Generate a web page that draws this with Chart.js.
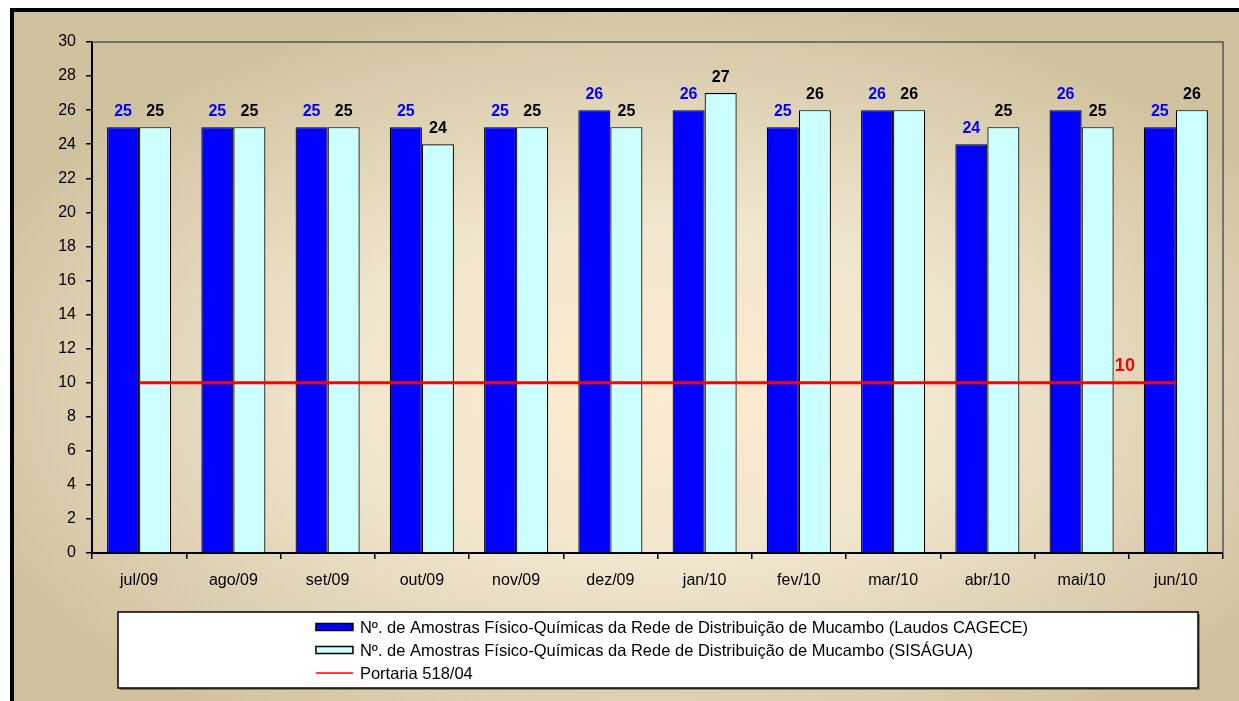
<!DOCTYPE html>
<html>
<head>
<meta charset="utf-8">
<script src="https://cdn.jsdelivr.net/npm/chart.js@4.4.1/dist/chart.umd.min.js"></script>
<style>
    body { margin: 0; background: #fff; overflow: hidden; }
    canvas { display: block; }
</style>
</head>
<body>
<canvas id="amostrasChart" width="1239" height="701"></canvas>
<script>
const meses = ["jul/09", "ago/09", "set/09", "out/09", "nov/09", "dez/09", "jan/10", "fev/10", "mar/10", "abr/10", "mai/10", "jun/10"];
const laudosCagece = [25, 25, 25, 25, 25, 26, 26, 25, 26, 24, 26, 25];
const sisagua = [25, 25, 25, 24, 25, 25, 27, 26, 26, 25, 25, 26];
const portaria = [10, 10, 10, 10, 10, 10, 10, 10, 10, 10, 10, 10];
const yMin = 0, yMax = 30, yStep = 2;

const FONT = "'Liberation Sans', Arial, sans-serif";

// Beige background with a black frame on the top/left edge
const backgroundPlugin = {
    id: "background",
    beforeDraw(chart) {
        const ctx = chart.ctx;
        const w = chart.width, h = chart.height;
        ctx.save();
        ctx.fillStyle = "#fff";
        ctx.fillRect(0, 0, w, h);
        ctx.fillStyle = "#000";
        ctx.fillRect(10, 8, w, h);

        const cx = 650, cy = 390, rx = 720, ry = 400;
        ctx.beginPath();
        ctx.rect(14, 12, w, h);
        ctx.clip();
        ctx.translate(cx, cy);
        ctx.scale(1, ry / rx);
        const grad = ctx.createRadialGradient(0, 0, 0, 0, 0, rx);
        grad.addColorStop(0, "#fdebd0");
        grad.addColorStop(0.45, "#efe5cd");
        grad.addColorStop(1, "#d1c29f");
        ctx.fillStyle = grad;
        ctx.fillRect(-cx, -cy * rx / ry, w * 2, h * 2 * rx / ry);
        ctx.restore();
    },
    afterDraw(chart) {
        // grey frame on top and right of the plot area
        const { ctx, chartArea } = chart;
        ctx.save();
        ctx.strokeStyle = "#555";
        ctx.lineWidth = 1.5;
        ctx.beginPath();
        ctx.moveTo(chartArea.left, chartArea.top);
        ctx.lineTo(chartArea.right, chartArea.top);
        ctx.lineTo(chartArea.right, chartArea.bottom);
        ctx.stroke();
        ctx.restore();
    }
};

// Value labels above bars and on the last point of the line
const valueLabels = {
    id: "valueLabels",
    afterDatasetsDraw(chart) {
        const ctx = chart.ctx;
        ctx.save();
        ctx.textAlign = "center";
        ctx.textBaseline = "middle";
        chart.data.datasets.forEach((ds, i) => {
            const meta = chart.getDatasetMeta(i);
            if (ds.type === "line") {
                const last = meta.data[meta.data.length - 1];
                ctx.font = "bold 18px " + FONT;
                ctx.fillStyle = "#ff0000";
                ctx.fillText(ds.data[ds.data.length - 1], last.x - 51, last.y - 17);
                return;
            }
            ctx.font = "bold 16px " + FONT;
            ctx.fillStyle = ds.labelColor;
            meta.data.forEach((bar, j) => {
                ctx.fillText(ds.data[j], bar.x, bar.y - 16);
            });
        });
        ctx.restore();
    }
};

// Boxed legend under the x axis
const boxLegend = {
    id: "boxLegend",
    afterDraw(chart) {
        const { ctx, chartArea } = chart;
        const left = chartArea.left + 26;
        const right = chartArea.right - 25;
        const top = chartArea.bottom + 59;
        const height = 76;
        ctx.save();
        ctx.fillStyle = "rgba(0,0,0,0.35)";
        ctx.fillRect(left + 2, top + 2, right - left, height);
        ctx.fillStyle = "#fff";
        ctx.fillRect(left, top, right - left, height);
        ctx.strokeStyle = "#000";
        ctx.lineWidth = 1.5;
        ctx.strokeRect(left, top, right - left, height);

        ctx.font = "16.5px " + FONT;
        ctx.textBaseline = "middle";
        ctx.textAlign = "left";
        const items = chart.data.datasets;
        const textW = Math.max(...items.map(d => ctx.measureText(d.label).width));
        const swW = 37, gap = 7;
        const startX = (left + right) / 2 - (swW + gap + textW) / 2 + 14;
        items.forEach((ds, i) => {
            const y = top + 15 + i * 23;
            if (ds.type === "line") {
                ctx.strokeStyle = ds.borderColor;
                ctx.lineWidth = 1.5;
                ctx.beginPath();
                ctx.moveTo(startX, y);
                ctx.lineTo(startX + swW, y);
                ctx.stroke();
            } else {
                ctx.fillStyle = ds.backgroundColor;
                ctx.fillRect(startX, y - 3.5, swW, 7);
                ctx.strokeStyle = "#000";
                ctx.lineWidth = 1.5;
                ctx.strokeRect(startX, y - 3.5, swW, 7);
            }
            ctx.fillStyle = "#000";
            ctx.fillText(ds.label, startX + swW + gap, y + 1);
        });
        ctx.restore();
    }
};

const ctx = document.getElementById("amostrasChart").getContext("2d");
new Chart(ctx, {
    type: "bar",
    data: {
        labels: meses,
        datasets: [
            {
                label: "Nº. de Amostras Físico-Químicas da Rede de Distribuição de Mucambo (Laudos CAGECE)",
                data: laudosCagece,
                backgroundColor: "#0000ff",
                borderColor: "#000",
                borderWidth: 1.2,
                labelColor: "#0000ff",
                categoryPercentage: 0.68,
                barPercentage: 1.0,
                order: 2
            },
            {
                label: "Nº. de Amostras Físico-Químicas da Rede de Distribuição de Mucambo (SISÁGUA)",
                data: sisagua,
                backgroundColor: "#ccffff",
                borderColor: "#000",
                borderWidth: 1.2,
                labelColor: "#000",
                categoryPercentage: 0.68,
                barPercentage: 1.0,
                order: 2
            },
            {
                type: "line",
                label: "Portaria 518/04",
                data: portaria,
                borderColor: "#ff0000",
                backgroundColor: "#ff0000",
                borderWidth: 3,
                pointRadius: 0,
                fill: false,
                tension: 0,
                order: 1
            }
        ]
    },
    options: {
        responsive: false,
        animation: false,
        layout: { padding: { left: 14, top: 42, right: 16, bottom: 108 } },
        plugins: {
            legend: { display: false },
            tooltip: { enabled: false }
        },
        scales: {
            x: {
                grid: { display: true, drawOnChartArea: false, drawTicks: true, tickLength: 6, color: "#000", lineWidth: 1.5 },
                border: { display: true, color: "#000", width: 2 },
                ticks: { color: "#000", font: { size: 16, family: FONT }, padding: 12 },
                afterFit(scale) { scale.height = 40; }
            },
            y: {
                min: yMin,
                max: yMax,
                grid: { display: true, drawOnChartArea: false, drawTicks: true, tickLength: 6, color: "#000", lineWidth: 1.5 },
                border: { display: true, color: "#000", width: 2 },
                ticks: { stepSize: yStep, color: "#000", font: { size: 16, family: FONT }, padding: 10 },
                afterFit(scale) { scale.width = 78; }
            }
        }
    },
    plugins: [backgroundPlugin, valueLabels, boxLegend]
});
</script>
</body>
</html>
